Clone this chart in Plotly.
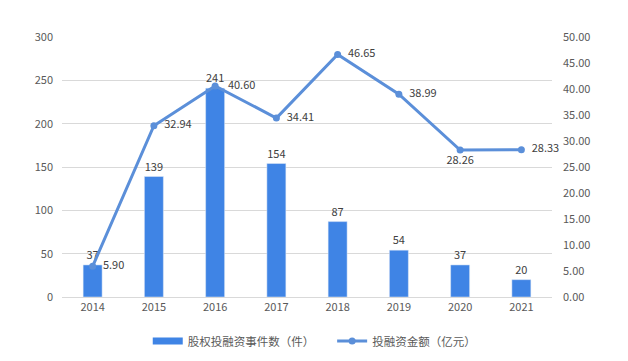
import plotly.graph_objects as go

years = ["2014", "2015", "2016", "2017", "2018", "2019", "2020", "2021"]
events = [37, 139, 241, 154, 87, 54, 37, 20]
amounts = [5.90, 32.94, 40.60, 34.41, 46.65, 38.99, 28.26, 28.33]
amount_pos = ["middle right", "middle right", "middle right", "middle right",
              "middle right", "middle right", "bottom center", "middle right"]

font_family = "Noto Sans CJK SC, Microsoft YaHei, sans-serif"
bar_color = "#3f84e5"
line_color = "#5b8fd9"
fig = go.Figure()
fig.add_trace(go.Bar(
    x=years, y=events, name="股权投融资事件数（件）",
    marker_color=bar_color, width=0.31, showlegend=False,
    text=[str(v) for v in events], textposition="outside",
    textfont=dict(size=11, color="#404040"), cliponaxis=False,
))
# legend entry drawn as a wide rectangle like the reference
fig.add_trace(go.Scatter(
    x=[None], y=[None], name="股权投融资事件数（件）     ", mode="lines",
    line=dict(color=bar_color, width=7),
))
amount_text = []
for i, (v, p) in enumerate(zip(amounts, amount_pos)):
    t = f"{v:.2f}"
    if p == "middle right":
        t = ("   " if i == 2 else "  ") + t
    amount_text.append(t)
fig.add_trace(go.Scatter(
    x=years, y=amounts, name="投融资金额（亿元）", yaxis="y2",
    mode="lines+markers+text",
    line=dict(color=line_color, width=3), marker=dict(size=7, color=line_color),
    text=amount_text, textposition=amount_pos,
    textfont=dict(size=11, color="#404040"), cliponaxis=False,
))
fig.update_layout(
    width=628, height=361,
    margin=dict(l=62, r=76, t=37, b=64, autoexpand=False),
    paper_bgcolor="white", plot_bgcolor="white",
    font=dict(family=font_family, size=11, color="#595959"),
    xaxis=dict(showgrid=False, showline=True, linecolor="#d9d9d9", ticks="",
               tickfont=dict(size=11, color="#595959")),
    yaxis=dict(range=[0, 300], dtick=50, showgrid=True, gridcolor="#d9d9d9",
               zeroline=False, showline=False, ticks="", ticklabelstandoff=8,
               tickfont=dict(size=11, color="#595959")),
    yaxis2=dict(range=[0, 50], dtick=5, overlaying="y", side="right",
                showgrid=False, zeroline=False, tickformat=".2f",
                ticklabelstandoff=10, tickfont=dict(size=11, color="#595959")),
    legend=dict(orientation="h", x=0.175, xanchor="left",
                yref="container", y=0.015, yanchor="bottom",
                font=dict(size=11.5, color="#595959"), itemwidth=30,
                tracegroupgap=0),
    showlegend=True,
)
fig.write_html("out.html", config={"displayModeBar": False},
               post_script="document.body.style.margin='0';")
